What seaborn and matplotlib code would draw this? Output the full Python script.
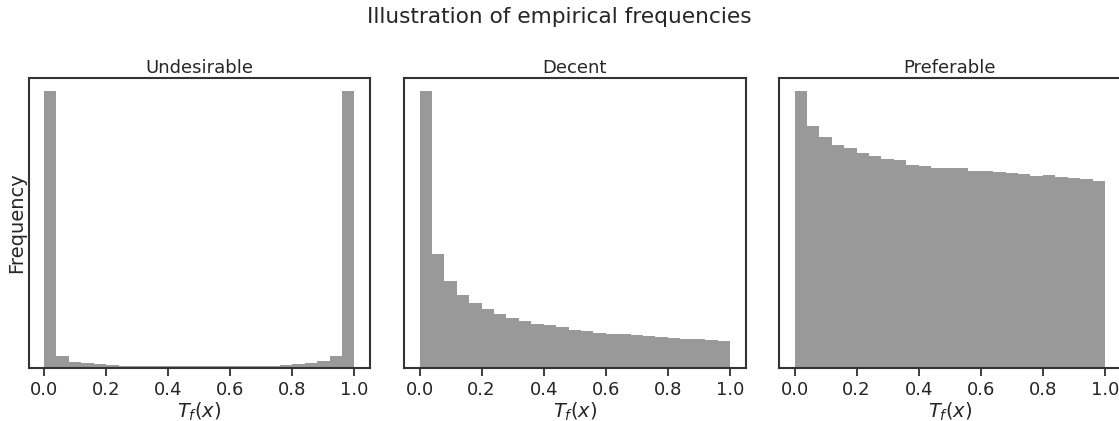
import numpy as np
import matplotlib
matplotlib.use("Agg")
import matplotlib.pyplot as plt
import seaborn as sns

# ---- data (bar heights, arbitrary units) ----
titles = ["Undesirable", "Decent", "Preferable"]
bin_edges = [i * 0.04 for i in range(26)]
undesirable = [825, 34, 17, 12, 9, 7, 5, 5, 4, 4, 4, 4, 4, 4, 4, 4, 5, 5, 5, 8, 11, 13, 19, 34, 825]
decent = [825, 340, 259, 217, 192, 174, 160, 149, 139, 130, 126, 120, 112, 108, 104,
          100, 99, 96, 93, 90, 87, 85, 84, 82, 79]
preferable = [825, 720, 690, 666, 655, 641, 632, 623, 619, 604, 603, 597, 595, 595, 586,
              588, 585, 581, 577, 573, 574, 568, 567, 564, 558]
xticks = [0.0, 0.2, 0.4, 0.6, 0.8, 1.0]
xlabel = "$T_f(x)$"
ylabel = "Frequency"
suptitle = "Illustration of empirical frequencies"

sns.set_theme(style="ticks")
plt.rcParams["font.family"] = ["DejaVu Sans"]
plt.rcParams["text.color"] = ".15"
plt.rcParams["axes.labelcolor"] = ".15"
plt.rcParams["xtick.color"] = ".15"
plt.rcParams["mathtext.fontset"] = "dejavusans"

W, H = 1119, 421
fig = plt.figure(figsize=(W / 100, H / 100), dpi=100)

lefts = [28.5, 404.0, 779.0]
ax_w = 341.5
top_px, bot_px = 77.5, 367.5
centers = [(bin_edges[i] + bin_edges[i + 1]) / 2 for i in range(len(bin_edges) - 1)]
series = [undesirable, decent, preferable]

for i, (t, vals) in enumerate(zip(titles, series)):
    ax = fig.add_axes([lefts[i] / W, (H - bot_px) / H, ax_w / W, (bot_px - top_px) / H])
    sns.histplot(x=centers, weights=vals, bins=bin_edges, ax=ax, color="#999999",
                 alpha=1.0, linewidth=0, edgecolor="none")
    ax.set_title(t, fontsize=13, pad=3)
    ax.set_xticks(xticks)
    ax.set_xticklabels([f"{v:.1f}" for v in xticks])
    ax.tick_params(axis="x", labelsize=13, length=6, width=1.25, pad=4)
    ax.set_yticks([])
    ax.set_xlabel(xlabel, fontsize=14, labelpad=1)
    if i == 0:
        ax.set_ylabel(ylabel, fontsize=14, labelpad=2)
    else:
        ax.set_ylabel("")
    for s in ax.spines.values():
        s.set_linewidth(1.5)
        s.set_color(".2")

fig.suptitle(suptitle, fontsize=15.6, y=(H - 17) / H, va="center")
fig.savefig("out.png", dpi=100)
